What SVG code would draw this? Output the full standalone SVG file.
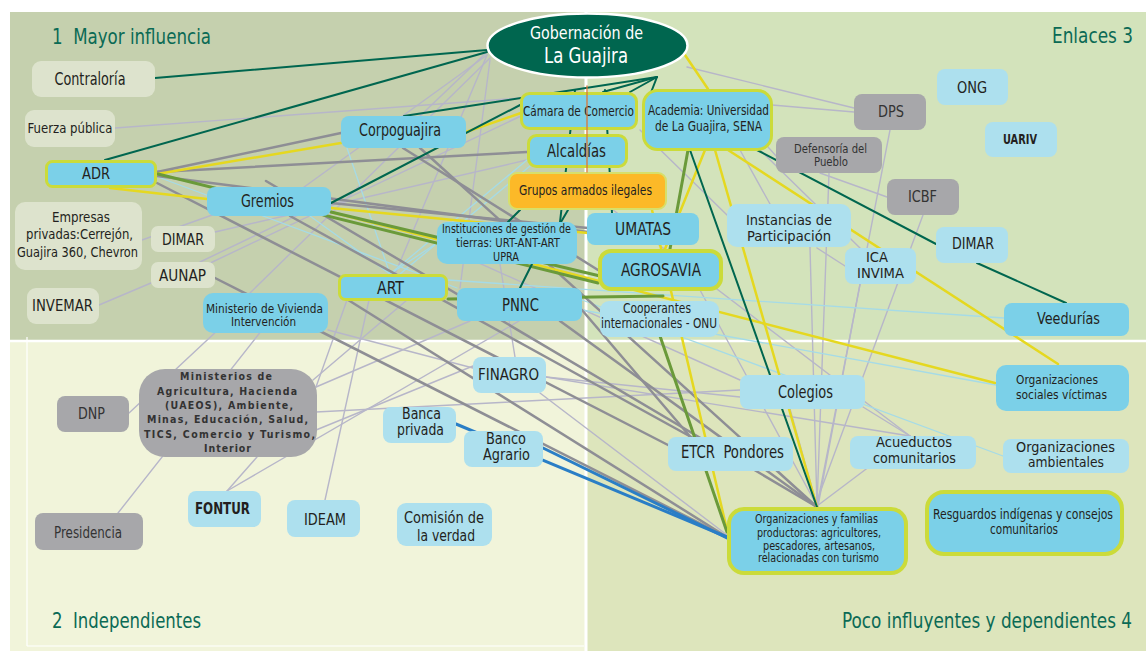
<svg xmlns="http://www.w3.org/2000/svg" width="1148" height="651" viewBox="0 0 1148 651">
<style>
text{font-family:'Liberation Sans Narrow','DejaVu Sans Condensed','Liberation Sans',sans-serif;fill:#231f20;text-anchor:middle}
.q{fill:#0b6a55;font-size:21px;text-anchor:start}
.qe{fill:#0b6a55;font-size:20.5px;text-anchor:end}
.blue{fill:#7bd0e8}
.lb{fill:#ade0ee}
.pale{fill:#dde3cd}
.gray{fill:#a7a7aa}
.yg{stroke:#cbdb3a;stroke-width:3}
.yg4{stroke:#cbdb3a;stroke-width:4}
.gt{fill:#333}
.tl{stroke:#00664f;stroke-width:2}
.yl{stroke:#e5d820;stroke-width:2.5}
.gn{stroke:#6a9a3a;stroke-width:3}
.gr{stroke:#8e8e95;stroke-width:2.5}
.lv{stroke:#b7b6c9;stroke-width:1.4}
.cy{stroke:#a5dbe7;stroke-width:1.3}
.bl{stroke:#2a7ec6;stroke-width:3}
#connectors line,#connectors-top line{stroke-linecap:round;fill:none}
</style>
<rect x="0" y="0" width="1148" height="651" fill="#ffffff"/>
<g id="background">
<rect x="10" y="12" width="576" height="329" fill="#c5d0ae"/>
<rect x="586" y="12" width="560" height="329" fill="#d3e3bb"/>
<rect x="10" y="341" width="576" height="310" fill="#f1f4da"/>
<rect x="586" y="341" width="560" height="310" fill="#dde5bc"/>
<line x1="10" y1="341" x2="1146" y2="341" stroke="#ffffff" stroke-width="2.5"/>
<line x1="586" y1="12" x2="586" y2="651" stroke="#ffffff" stroke-width="3"/>
<line x1="27" y1="337" x2="27" y2="646" stroke="#ffffff" stroke-width="1.2"/>
<line x1="27" y1="646" x2="584" y2="646" stroke="#ffffff" stroke-width="1.2"/>
<text class="q" x="52" y="44" xml:space="preserve" textLength="159" lengthAdjust="spacingAndGlyphs">1  Mayor influencia</text>
<text class="qe" x="1133" y="43" textLength="81" lengthAdjust="spacingAndGlyphs">Enlaces 3</text>
<text class="q" x="52" y="628" xml:space="preserve" textLength="149" lengthAdjust="spacingAndGlyphs">2  Independientes</text>
<text class="qe" x="1132" y="628" textLength="290" lengthAdjust="spacingAndGlyphs">Poco influyentes y dependientes 4</text>
</g>
<g id="connectors">
<line class="lv" x1="115" y1="128" x2="521" y2="98"/>
<line class="lv" x1="142" y1="240" x2="215" y2="214"/>
<line class="lv" x1="200" y1="262" x2="300" y2="214"/>
<line class="lv" x1="99" y1="305" x2="151" y2="283"/>
<line class="lv" x1="129" y1="413" x2="250" y2="300"/>
<line class="lv" x1="118" y1="513" x2="262" y2="330"/>
<line class="lv" x1="316" y1="412" x2="740" y2="390"/>
<line class="lv" x1="227" y1="491" x2="519" y2="321"/>
<line class="lv" x1="227" y1="491" x2="257" y2="457"/>
<line class="lv" x1="316" y1="387" x2="470" y2="321"/>
<line class="lv" x1="313" y1="380" x2="407" y2="300"/>
<line class="lv" x1="325" y1="500" x2="369" y2="300"/>
<line class="lv" x1="316" y1="387" x2="347" y2="300"/>
<line class="lv" x1="316" y1="430" x2="473" y2="366"/>
<line class="lv" x1="487" y1="55" x2="300" y2="190"/>
<line class="lv" x1="487" y1="55" x2="395" y2="274"/>
<line class="lv" x1="490" y1="60" x2="460" y2="288"/>
<line class="lv" x1="487" y1="52" x2="420" y2="116"/>
<line class="lv" x1="490" y1="58" x2="250" y2="293"/>
<line class="lv" x1="206" y1="265" x2="521" y2="116"/>
<line class="lv" x1="215" y1="232" x2="527" y2="160"/>
<line class="lv" x1="328" y1="330" x2="473" y2="368"/>
<line class="lv" x1="515" y1="357" x2="500" y2="264"/>
<line class="lv" x1="540" y1="393" x2="727" y2="535"/>
<line class="lv" x1="546" y1="377" x2="910" y2="436"/>
<line class="lv" x1="546" y1="377" x2="740" y2="397"/>
<line class="lv" x1="687" y1="67" x2="854" y2="108"/>
<line class="lv" x1="772" y1="105" x2="854" y2="112"/>
<line class="lv" x1="760" y1="138" x2="777" y2="157"/>
<line class="lv" x1="820" y1="173" x2="887" y2="197"/>
<line class="lv" x1="890" y1="130" x2="817" y2="506"/>
<line class="lv" x1="829" y1="173" x2="817" y2="506"/>
<line class="lv" x1="923" y1="215" x2="815" y2="506"/>
<line class="lv" x1="860" y1="284" x2="818" y2="506"/>
<line class="lv" x1="810" y1="247" x2="817" y2="506"/>
<line class="lv" x1="817" y1="248" x2="845" y2="266"/>
<line class="lv" x1="760" y1="150" x2="860" y2="248"/>
<line class="lv" x1="740" y1="150" x2="770" y2="204"/>
<line class="lv" x1="863" y1="407" x2="910" y2="436"/>
<line class="lv" x1="910" y1="436" x2="817" y2="506"/>
<line class="lv" x1="790" y1="409" x2="817" y2="506"/>
<line class="lv" x1="700" y1="290" x2="817" y2="506"/>
<line class="lv" x1="600" y1="200" x2="910" y2="436"/>
<line class="lv" x1="450" y1="250" x2="740" y2="380"/>
<line class="lv" x1="640" y1="130" x2="727" y2="215"/>
<line class="cy" x1="347" y1="148" x2="390" y2="274"/>
<line class="cy" x1="437" y1="243" x2="390" y2="274"/>
<line class="cy" x1="310" y1="216" x2="390" y2="274"/>
<line class="cy" x1="448" y1="280" x2="1004" y2="318"/>
<line class="cy" x1="582" y1="310" x2="996" y2="385"/>
<line class="cy" x1="582" y1="300" x2="1003" y2="456"/>
<line class="cy" x1="158" y1="177" x2="457" y2="288"/>
<line class="cy" x1="390" y1="274" x2="527" y2="160"/>
<line class="cy" x1="400" y1="274" x2="530" y2="166"/>
<line class="gr" x1="157" y1="172" x2="341" y2="133"/>
<line class="gr" x1="157" y1="172" x2="527" y2="152"/>
<line class="gr" x1="157" y1="176" x2="588" y2="232"/>
<line class="gr" x1="157" y1="183" x2="668" y2="445"/>
<line class="gr" x1="215" y1="278" x2="727" y2="537"/>
<line class="gr" x1="345" y1="298" x2="727" y2="537"/>
<line class="gr" x1="331" y1="203" x2="588" y2="228"/>
<line class="gr" x1="290" y1="216" x2="693" y2="438"/>
<line class="gr" x1="403" y1="148" x2="598" y2="270"/>
<line class="gr" x1="420" y1="148" x2="817" y2="507"/>
<line class="gr" x1="560" y1="321" x2="817" y2="507"/>
<line class="gr" x1="266" y1="181" x2="817" y2="507"/>
<line class="gr" x1="582" y1="310" x2="693" y2="440"/>
<line class="yl" x1="157" y1="174" x2="341" y2="143"/>
<line class="yl" x1="110" y1="188" x2="207" y2="199"/>
<line class="yl" x1="466" y1="132" x2="521" y2="113"/>
<line class="yl" x1="331" y1="208" x2="588" y2="233"/>
<line class="yl" x1="331" y1="212" x2="995" y2="383"/>
<line class="yl" x1="685" y1="55" x2="708" y2="89"/>
<line class="yl" x1="705" y1="150" x2="665" y2="249"/>
<line class="yl" x1="715" y1="150" x2="817" y2="507"/>
<line class="yl" x1="728" y1="150" x2="1058" y2="364"/>
<line class="yl" x1="652" y1="210" x2="727" y2="530"/>
<line class="gn" x1="158" y1="174" x2="598" y2="283"/>
<line class="gn" x1="331" y1="212" x2="600" y2="276"/>
<line class="gn" x1="448" y1="299" x2="663" y2="296"/>
<line class="gn" x1="688" y1="150" x2="670" y2="249"/>
<line class="gn" x1="660" y1="336" x2="727" y2="532"/>
<line class="tl" x1="155" y1="78" x2="487" y2="50"/>
<line class="tl" x1="105" y1="160" x2="487" y2="52"/>
<line class="tl" x1="331" y1="203" x2="522" y2="104"/>
<line class="tl" x1="404" y1="116" x2="657" y2="77"/>
<line class="tl" x1="603" y1="92" x2="657" y2="77"/>
<line class="tl" x1="630" y1="92" x2="657" y2="77"/>
<line class="tl" x1="650" y1="95" x2="657" y2="77"/>
<line class="tl" x1="690" y1="150" x2="817" y2="507"/>
<line class="tl" x1="757" y1="150" x2="936" y2="244"/>
<line class="tl" x1="977" y1="263" x2="1066" y2="303"/>
<line class="tl" x1="520" y1="210" x2="508" y2="222"/>
<line class="tl" x1="568" y1="210" x2="561" y2="222"/>
<line class="tl" x1="532" y1="264" x2="520" y2="288"/>
<line class="tl" x1="575" y1="90" x2="560" y2="222"/>
<line class="tl" x1="605" y1="90" x2="612" y2="213"/>
<line class="bl" x1="456" y1="424" x2="727" y2="537"/>
<line class="bl" x1="543" y1="448" x2="727" y2="538"/>
</g>
<g id="nodes">
<g id="gobernacion"><ellipse cx="587.5" cy="45.5" rx="100" ry="32" fill="#00664f" stroke="#ffffff" stroke-width="2.5"/><text x="586.5" y="39" font-size="17" style="fill:#fff" textLength="113" lengthAdjust="spacingAndGlyphs">Gobernación de</text><text x="586" y="63" font-size="21" style="fill:#fff" textLength="84" lengthAdjust="spacingAndGlyphs">La Guajira</text></g>
<g id="contraloria"><rect class="pale" x="32" y="61" width="123" height="36" rx="9"/><text x="90" y="85" font-size="17" textLength="71" lengthAdjust="spacingAndGlyphs">Contraloría</text></g>
<g id="fuerza-publica"><rect class="pale" x="25" y="110" width="90" height="37" rx="9"/><text x="70" y="133" font-size="14" textLength="85" lengthAdjust="spacingAndGlyphs">Fuerza pública</text></g>
<g id="adr"><rect class="blue yg" x="46.5" y="161.5" width="109" height="25" rx="6"/><text x="96" y="179" font-size="16" textLength="28" lengthAdjust="spacingAndGlyphs">ADR</text></g>
<g id="gremios"><rect class="blue" x="207" y="187" width="124" height="29" rx="8"/><text x="267.5" y="207" font-size="17" textLength="53" lengthAdjust="spacingAndGlyphs">Gremios</text></g>
<g id="corpoguajira"><rect class="blue" x="341" y="116" width="125" height="32" rx="8"/><text x="400" y="136" font-size="17" textLength="82" lengthAdjust="spacingAndGlyphs">Corpoguajira</text></g>
<g id="empresas"><rect class="pale" x="15" y="202" width="127" height="68" rx="10"/><text x="81" y="222" font-size="14.5" textLength="58" lengthAdjust="spacingAndGlyphs">Empresas</text><text x="79.5" y="239" font-size="14.5" textLength="107" lengthAdjust="spacingAndGlyphs">privadas:Cerrejón,</text><text x="77.5" y="257" font-size="14.5" textLength="121" lengthAdjust="spacingAndGlyphs">Guajira 360, Chevron</text></g>
<g id="dimar-1"><rect class="pale" x="151" y="226" width="64" height="26" rx="7"/><text x="183" y="245" font-size="15.5" textLength="42" lengthAdjust="spacingAndGlyphs">DIMAR</text></g>
<g id="aunap"><rect class="pale" x="151" y="262" width="64" height="26" rx="7"/><text x="182.5" y="281" font-size="15.5" textLength="47" lengthAdjust="spacingAndGlyphs">AUNAP</text></g>
<g id="invemar"><rect class="pale" x="27" y="288" width="72" height="36" rx="9"/><text x="62.5" y="311" font-size="16" textLength="61" lengthAdjust="spacingAndGlyphs">INVEMAR</text></g>
<g id="min-vivienda"><rect class="blue" x="203" y="293" width="125" height="40" rx="10"/><text x="264.5" y="313" font-size="13" textLength="117" lengthAdjust="spacingAndGlyphs">Ministerio de Vivienda</text><text x="263.5" y="326" font-size="13" textLength="65" lengthAdjust="spacingAndGlyphs">Intervención</text></g>
<g id="art"><rect class="blue yg" x="339.5" y="275.5" width="107" height="24" rx="6"/><text x="390.5" y="294" font-size="17" textLength="27" lengthAdjust="spacingAndGlyphs">ART</text></g>
<g id="camara"><rect class="blue yg" x="521.5" y="93.5" width="115" height="35" rx="8"/><text x="578.5" y="116" font-size="14.5" textLength="111" lengthAdjust="spacingAndGlyphs">Cámara de Comercio</text></g>
<g id="academia"><rect class="blue yg" x="643.5" y="90.5" width="128" height="59" rx="14"/><text x="708.5" y="115" font-size="14" textLength="121" lengthAdjust="spacingAndGlyphs">Academia: Universidad</text><text x="708.5" y="131" font-size="14" textLength="107" lengthAdjust="spacingAndGlyphs">de La Guajira, SENA</text></g>
<g id="alcaldias"><rect class="blue yg" x="528.5" y="135.5" width="98" height="31" rx="8"/><text x="576.5" y="157" font-size="17.5" textLength="59" lengthAdjust="spacingAndGlyphs">Alcaldías</text></g>
<g id="grupos-armados"><rect x="509" y="173" width="157" height="36" rx="8" fill="#fcb928" stroke="#d7df6a" stroke-width="2"/><text x="585.5" y="195" font-size="14" textLength="133" lengthAdjust="spacingAndGlyphs">Grupos armados ilegales</text></g>
<g id="instituciones"><rect class="blue" x="437" y="222" width="140" height="42" rx="10"/><text x="506.5" y="233" font-size="12.5" textLength="129" lengthAdjust="spacingAndGlyphs">Instituciones de gestión de</text><text x="508" y="247" font-size="12.5" textLength="104" lengthAdjust="spacingAndGlyphs">tierras: URT-ANT-ART</text><text x="506" y="261" font-size="12.5" textLength="26" lengthAdjust="spacingAndGlyphs">UPRA</text></g>
<g id="umatas"><rect class="blue" x="587" y="213" width="112" height="32" rx="8"/><text x="643" y="235" font-size="17" textLength="56" lengthAdjust="spacingAndGlyphs">UMATAS</text></g>
<g id="agrosavia"><rect class="blue yg4" x="600" y="251" width="121" height="38" rx="11"/><text x="661" y="276" font-size="17.5" textLength="80" lengthAdjust="spacingAndGlyphs">AGROSAVIA</text></g>
<g id="pnnc"><rect class="blue" x="457" y="288" width="125" height="33" rx="8"/><text x="520.5" y="311" font-size="17" textLength="37" lengthAdjust="spacingAndGlyphs">PNNC</text></g>
<g id="cooperantes"><rect class="lb" x="600" y="301" width="119" height="36" rx="9"/><text x="657" y="313" font-size="13.5" textLength="68" lengthAdjust="spacingAndGlyphs">Cooperantes</text><text x="659" y="328" font-size="13.5" textLength="116" lengthAdjust="spacingAndGlyphs">internacionales - ONU</text></g>
<g id="dps"><rect class="gray" x="854" y="94" width="72" height="36" rx="8"/><text class="gt" x="891" y="117" font-size="16" textLength="26" lengthAdjust="spacingAndGlyphs">DPS</text></g>
<g id="ong"><rect class="lb" x="937" y="69" width="71" height="36" rx="8"/><text x="972" y="93" font-size="16" textLength="30" lengthAdjust="spacingAndGlyphs">ONG</text></g>
<g id="uariv"><rect class="lb" x="985" y="122" width="72" height="35" rx="8"/><text x="1020" y="144" font-size="13.5" font-weight="bold" textLength="34" lengthAdjust="spacingAndGlyphs">UARIV</text></g>
<g id="defensoria"><rect class="gray" x="776" y="137" width="106" height="36" rx="8"/><text class="gt" x="830.5" y="153" font-size="12.5" textLength="73" lengthAdjust="spacingAndGlyphs">Defensoría del</text><text class="gt" x="831" y="166" font-size="12.5" textLength="34" lengthAdjust="spacingAndGlyphs">Pueblo</text></g>
<g id="icbf"><rect class="gray" x="887" y="179" width="72" height="36" rx="8"/><text class="gt" x="922.5" y="202" font-size="16" textLength="29" lengthAdjust="spacingAndGlyphs">ICBF</text></g>
<g id="instancias"><rect class="lb" x="727" y="204" width="124" height="43" rx="10"/><text x="789" y="224.5" font-size="14.5" textLength="86" lengthAdjust="spacingAndGlyphs">Instancias de</text><text x="789" y="240.5" font-size="14.5" textLength="84" lengthAdjust="spacingAndGlyphs">Participación</text></g>
<g id="ica-invima"><rect class="lb" x="845" y="248" width="71" height="36" rx="8"/><text x="877" y="261.5" font-size="14.5" textLength="22" lengthAdjust="spacingAndGlyphs">ICA</text><text x="880.5" y="277.5" font-size="14.5" textLength="47" lengthAdjust="spacingAndGlyphs">INVIMA</text></g>
<g id="dimar-3"><rect class="lb" x="936" y="227" width="72" height="36" rx="8"/><text x="973" y="249" font-size="16" textLength="42" lengthAdjust="spacingAndGlyphs">DIMAR</text></g>
<g id="veedurias"><rect class="blue" x="1004" y="303" width="125" height="33" rx="8"/><text x="1068.5" y="324" font-size="16.5" textLength="63" lengthAdjust="spacingAndGlyphs">Veedurías</text></g>
<g id="org-victimas"><rect class="blue" x="996" y="365" width="133" height="46" rx="10"/><text x="1016" y="384" font-size="13" style="text-anchor:start" textLength="82" lengthAdjust="spacingAndGlyphs">Organizaciones</text><text x="1016" y="399" font-size="13" style="text-anchor:start" textLength="91" lengthAdjust="spacingAndGlyphs">sociales víctimas</text></g>
<g id="colegios"><rect class="lb" x="740" y="375" width="125" height="34" rx="8"/><text x="805.5" y="398" font-size="17" textLength="55" lengthAdjust="spacingAndGlyphs">Colegios</text></g>
<g id="acueductos"><rect class="lb" x="850" y="436" width="126" height="33" rx="8"/><text x="914" y="447" font-size="14.5" textLength="76" lengthAdjust="spacingAndGlyphs">Acueductos</text><text x="914.5" y="463" font-size="14.5" textLength="83" lengthAdjust="spacingAndGlyphs">comunitarios</text></g>
<g id="org-ambientales"><rect class="lb" x="1003" y="439" width="126" height="34" rx="8"/><text x="1065.5" y="452" font-size="14.5" textLength="99" lengthAdjust="spacingAndGlyphs">Organizaciones</text><text x="1066" y="467" font-size="14.5" textLength="76" lengthAdjust="spacingAndGlyphs">ambientales</text></g>
<g id="resguardos"><rect class="blue yg4" x="927" y="492" width="195" height="62" rx="17"/><text x="1023" y="519" font-size="14" textLength="180" lengthAdjust="spacingAndGlyphs">Resguardos indígenas y consejos</text><text x="1024" y="534" font-size="14" textLength="68" lengthAdjust="spacingAndGlyphs">comunitarios</text></g>
<g id="org-familias"><rect class="blue yg4" x="729" y="509" width="177" height="64" rx="15"/><text x="816.5" y="523" font-size="12" textLength="123" lengthAdjust="spacingAndGlyphs">Organizaciones y familias</text><text x="819" y="536.5" font-size="12" textLength="124" lengthAdjust="spacingAndGlyphs">productoras: agricultores,</text><text x="819" y="549.5" font-size="12" textLength="112" lengthAdjust="spacingAndGlyphs">pescadores, artesanos,</text><text x="818.5" y="562" font-size="12" textLength="121" lengthAdjust="spacingAndGlyphs">relacionadas con turismo</text></g>
<g id="etcr"><rect class="lb" x="668" y="437" width="125" height="34" rx="8"/><text x="732.5" y="458" font-size="17" xml:space="preserve" textLength="103" lengthAdjust="spacingAndGlyphs">ETCR  Pondores</text></g>
<g id="finagro"><rect class="lb" x="473" y="357" width="73" height="36" rx="8"/><text x="508.5" y="380" font-size="16" textLength="61" lengthAdjust="spacingAndGlyphs">FINAGRO</text></g>
<g id="banca-privada"><rect class="lb" x="383" y="407" width="73" height="36" rx="8"/><text x="421.5" y="419" font-size="15.5" textLength="39" lengthAdjust="spacingAndGlyphs">Banca</text><text x="420.5" y="435" font-size="15.5" textLength="47" lengthAdjust="spacingAndGlyphs">privada</text></g>
<g id="banco-agrario"><rect class="lb" x="464" y="431" width="79" height="36" rx="8"/><text x="506" y="444" font-size="15.5" textLength="40" lengthAdjust="spacingAndGlyphs">Banco</text><text x="506.5" y="460" font-size="15.5" textLength="47" lengthAdjust="spacingAndGlyphs">Agrario</text></g>
<g id="comision-verdad"><rect class="lb" x="397" y="503" width="95" height="43" rx="9"/><text x="444" y="523" font-size="16" textLength="80" lengthAdjust="spacingAndGlyphs">Comisión de</text><text x="446" y="541" font-size="16" textLength="58" lengthAdjust="spacingAndGlyphs">la verdad</text></g>
<g id="dnp"><rect class="gray" x="57" y="396" width="72" height="36" rx="8"/><text class="gt" x="91.5" y="419" font-size="16" textLength="27" lengthAdjust="spacingAndGlyphs">DNP</text></g>
<g id="ministerios"><rect class="gray" x="139" y="369" width="178" height="88" rx="26"/><text class="gt" x="226" y="380" font-size="10.5" font-weight="bold" textLength="92" lengthAdjust="spacing">Ministerios de</text><text class="gt" x="227" y="394.5" font-size="10.5" font-weight="bold" textLength="140" lengthAdjust="spacing">Agricultura, Hacienda</text><text class="gt" x="229" y="409" font-size="10.5" font-weight="bold" textLength="128" lengthAdjust="spacing">(UAEOS), Ambiente,</text><text class="gt" x="227.5" y="423" font-size="10.5" font-weight="bold" textLength="161" lengthAdjust="spacing">Minas, Educación, Salud,</text><text class="gt" x="229.5" y="437.5" font-size="10.5" font-weight="bold" textLength="171" lengthAdjust="spacing">TICS, Comercio y Turismo,</text><text class="gt" x="227.5" y="452" font-size="10.5" font-weight="bold" textLength="47" lengthAdjust="spacing">Interior</text></g>
<g id="fontur"><rect class="lb" x="188" y="491" width="73" height="36" rx="8"/><text x="222.5" y="514" font-size="16" font-weight="bold" textLength="55" lengthAdjust="spacingAndGlyphs">FONTUR</text></g>
<g id="ideam"><rect class="lb" x="287" y="500" width="73" height="37" rx="8"/><text x="325" y="525" font-size="16" textLength="42" lengthAdjust="spacingAndGlyphs">IDEAM</text></g>
<g id="presidencia"><rect class="gray" x="35" y="513" width="108" height="37" rx="8"/><text class="gt" x="88" y="538" font-size="16" textLength="68" lengthAdjust="spacingAndGlyphs">Presidencia</text></g>
</g>
<g id="connectors-top">
<line x1="587" y1="86" x2="587" y2="172" stroke="#d8783a" stroke-width="1.3"/>
</g>
</svg>
